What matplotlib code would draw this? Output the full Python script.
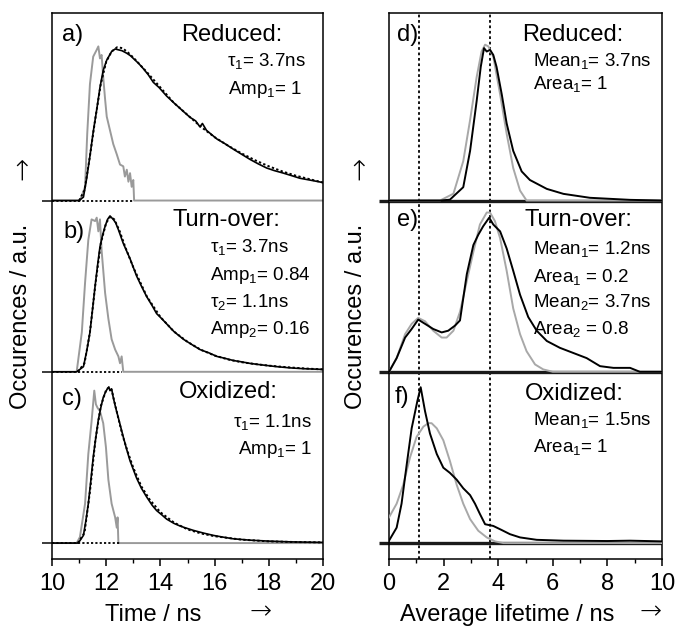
import numpy as np
import matplotlib
matplotlib.use('Agg')
import matplotlib.pyplot as plt
from matplotlib.ticker import MultipleLocator

plt.rcParams['font.family'] = ['Liberation Sans', 'DejaVu Sans']
plt.rcParams['mathtext.fontset'] = 'custom'
plt.rcParams['mathtext.rm'] = 'Liberation Sans'
plt.rcParams['mathtext.it'] = 'Liberation Sans:italic'

# ── decay curves (left) ─────────────────────────────
# a) reduced
irf_a_t = [10.0, 11.03, 11.22, 11.30, 11.40, 11.52, 11.65, 11.71, 11.77, 11.83, 11.89, 11.96, 12.02,
           12.14, 12.26, 12.39, 12.51, 12.63, 12.69, 12.76, 12.82, 12.88, 12.94, 13.00, 13.03, 20.0]
irf_a_h = [0, 0, 0.08, 0.39, 0.68, 0.84, 0.88, 0.90, 0.83, 0.85, 0.72, 0.59, 0.49,
           0.41, 0.33, 0.27, 0.21, 0.20, 0.14, 0.18, 0.11, 0.16, 0.08, 0.12, 0, 0]
dat_a_t = [10.0, 11.0, 11.16, 11.28, 11.40, 11.52, 11.65, 11.77, 11.89, 12.02, 12.20, 12.33, 12.45,
           12.58, 12.76, 12.9, 13.0, 13.2, 13.37, 13.55, 13.74, 13.95, 14.23, 14.5, 14.85, 15.1,
           15.3, 15.46, 15.55, 15.7, 16.08, 16.4, 16.69, 17.0, 17.31, 17.6, 17.92, 18.2, 18.54,
           18.85, 19.15, 19.5, 20.0]
dat_a_h = [0, 0, 0.02, 0.13, 0.26, 0.40, 0.53, 0.66, 0.76, 0.82, 0.87, 0.885, 0.88,
           0.875, 0.86, 0.845, 0.83, 0.80, 0.77, 0.735, 0.69, 0.66, 0.61, 0.57, 0.52, 0.485,
           0.465, 0.43, 0.45, 0.41, 0.36, 0.33, 0.30, 0.27, 0.24, 0.215, 0.19, 0.175, 0.16,
           0.145, 0.13, 0.12, 0.105]
fit_a_t = [11.0, 11.2, 11.4, 11.6, 11.8, 12.0, 12.2, 12.4, 12.6, 12.8, 13.0, 13.5, 14.0, 14.5,
           15.0, 15.5, 16.0, 16.5, 17.0, 17.5, 18.0, 18.5, 19.0, 19.5, 20.0]
fit_a_h = [0, 0.06, 0.26, 0.48, 0.68, 0.81, 0.87, 0.895, 0.89, 0.865, 0.835, 0.75, 0.66, 0.57,
           0.50, 0.43, 0.37, 0.32, 0.275, 0.235, 0.20, 0.17, 0.145, 0.125, 0.105]

# b) turn-over
irf_b_t = [10.0, 10.91, 11.10, 11.22, 11.34, 11.46, 11.59, 11.65, 11.71, 11.77, 11.83, 11.96,
           12.08, 12.20, 12.33, 12.45, 12.51, 12.57, 12.63, 20.0]
irf_b_h = [0, 0, 0.23, 0.52, 0.77, 0.89, 0.88, 0.90, 0.82, 0.89, 0.71, 0.46,
           0.31, 0.19, 0.13, 0.09, 0.05, 0.09, 0, 0]
dat_b_t = [10.0, 10.91, 11.16, 11.28, 11.40, 11.5, 11.59, 11.68, 11.77, 11.87, 11.96, 12.05, 12.14,
           12.26, 12.35, 12.45, 12.63, 12.88, 13.12, 13.3, 13.49, 13.7, 13.86, 14.05, 14.23, 14.5,
           14.85, 15.15, 15.46, 15.8, 16.08, 16.4, 16.69, 17.0, 17.31, 17.6, 17.92, 18.3, 18.78,
           19.3, 20.0]
dat_b_h = [0, 0, 0.03, 0.12, 0.23, 0.37, 0.50, 0.62, 0.73, 0.80, 0.85, 0.89, 0.91,
           0.89, 0.87, 0.83, 0.75, 0.66, 0.56, 0.50, 0.44, 0.385, 0.34, 0.31, 0.28, 0.235,
           0.19, 0.16, 0.13, 0.11, 0.09, 0.078, 0.066, 0.058, 0.049, 0.043, 0.037, 0.03, 0.023,
           0.018, 0.014]
fit_b_t = [10.95, 11.2, 11.4, 11.6, 11.8, 12.0, 12.15, 12.3, 12.5, 12.7, 13.0, 13.5, 14.0, 14.5,
           15.0, 15.5, 16.0, 16.5, 17.0, 17.5, 18.0, 18.5, 19.0, 19.5, 20.0]
fit_b_h = [0, 0.05, 0.23, 0.51, 0.75, 0.87, 0.905, 0.89, 0.82, 0.73, 0.61, 0.44, 0.32, 0.235,
           0.175, 0.128, 0.095, 0.072, 0.056, 0.045, 0.036, 0.029, 0.023, 0.018, 0.014]

# c) oxidized
irf_c_t = [10.0, 10.91, 11.03, 11.22, 11.34, 11.46, 11.56, 11.62, 11.68, 11.77, 11.89, 11.99,
           12.08, 12.20, 12.33, 12.39, 12.42, 12.45, 20.0]
irf_c_h = [0, 0, 0.035, 0.23, 0.52, 0.71, 0.89, 0.81, 0.79, 0.77, 0.70, 0.56,
           0.37, 0.23, 0.15, 0.09, 0.15, 0, 0]
dat_c_t = [10.0, 10.97, 11.16, 11.25, 11.34, 11.43, 11.52, 11.62, 11.71, 11.8, 11.89, 11.97, 12.04,
           12.1, 12.14, 12.2, 12.26, 12.35, 12.45, 12.63, 12.75, 12.88, 13.0, 13.12, 13.3, 13.49,
           13.7, 13.86, 14.05, 14.23, 14.5, 14.72, 14.9, 15.22, 15.6, 15.95, 16.3, 16.69, 17.3,
           17.92, 18.8, 20.0]
dat_c_h = [0, 0, 0.045, 0.13, 0.23, 0.36, 0.50, 0.62, 0.72, 0.79, 0.85, 0.88, 0.90,
           0.91, 0.89, 0.90, 0.85, 0.79, 0.73, 0.62, 0.55, 0.48, 0.43, 0.38, 0.32, 0.27,
           0.22, 0.19, 0.165, 0.14, 0.115, 0.10, 0.09, 0.074, 0.058, 0.045, 0.035, 0.025, 0.017,
           0.012, 0.007, 0.004]
fit_c_t = [10.95, 11.2, 11.4, 11.6, 11.8, 12.0, 12.1, 12.2, 12.4, 12.6, 12.8, 13.0, 13.3, 13.6,
           14.0, 14.5, 15.0, 15.5, 16.0, 17.0, 18.0, 19.0, 20.0]
fit_c_h = [0, 0.06, 0.30, 0.60, 0.80, 0.895, 0.91, 0.895, 0.76, 0.63, 0.53, 0.44, 0.33, 0.255,
           0.18, 0.12, 0.08, 0.056, 0.04, 0.02, 0.01, 0.006, 0.004]

# dotted zero line of the fit ends here
fit_zero_end = [13.0, 12.6, 12.5]

# ── lifetime distributions (right) ──────────────────
dis_d_x = [0, 1.87, 2.23, 2.72, 2.97, 3.21, 3.36, 3.48, 3.58, 3.70, 3.82, 3.94, 4.13, 4.31,
           4.55, 4.86, 5.16, 5.78, 6.39, 7.36, 8.83, 10.0]
dis_d_h = [0, 0, 0.005, 0.078, 0.29, 0.58, 0.78, 0.89, 0.87, 0.88, 0.85, 0.78, 0.62, 0.45,
           0.29, 0.17, 0.12, 0.068, 0.039, 0.016, 0.004, 0]
gau_d_x = [0, 1.87, 2.36, 2.72, 2.97, 3.21, 3.39, 3.52, 3.64, 3.82, 4.07, 4.31, 4.55, 4.80,
           5.04, 10.0]
gau_d_h = [0, 0, 0.04, 0.23, 0.47, 0.72, 0.87, 0.91, 0.90, 0.84, 0.62, 0.39, 0.19, 0.058,
           0, 0]

dis_e_x = [0, 0.28, 0.59, 0.83, 1.07, 1.32, 1.62, 1.93, 2.17, 2.42, 2.60, 2.85, 3.09, 3.27,
           3.45, 3.67, 3.82, 4.07, 4.31, 4.55, 4.80, 5.10, 5.41, 5.78, 6.26, 6.75, 7.24, 7.73,
           8.22, 8.83, 9.19, 10.0]
dis_e_h = [0, 0.08, 0.20, 0.25, 0.305, 0.28, 0.25, 0.23, 0.24, 0.27, 0.30, 0.57, 0.74, 0.80,
           0.85, 0.90, 0.86, 0.82, 0.72, 0.59, 0.45, 0.32, 0.24, 0.18, 0.14, 0.11, 0.08, 0.033,
           0.023, 0.023, 0, 0]
gau_e_x = [0, 0.28, 0.59, 0.83, 1.07, 1.32, 1.62, 1.93, 2.11, 2.36, 2.60, 2.85, 3.09, 3.33,
           3.58, 3.70, 3.88, 4.07, 4.31, 4.55, 4.80, 5.04, 5.35, 5.65, 6.0, 10.0]
gau_e_h = [0, 0.08, 0.22, 0.28, 0.315, 0.295, 0.24, 0.20, 0.20, 0.24, 0.35, 0.53, 0.70, 0.86,
           0.93, 0.93, 0.88, 0.78, 0.59, 0.37, 0.22, 0.12, 0.043, 0.014, 0, 0]

dis_f_x = [0, 0.28, 0.46, 0.65, 0.83, 1.04, 1.16, 1.32, 1.50, 1.75, 1.99, 2.23, 2.48, 2.72,
           2.97, 3.15, 3.33, 3.52, 3.82, 4.13, 4.43, 4.80, 5.41, 6.39, 8.0, 8.83, 10.0]
dis_f_h = [0.014, 0.09, 0.23, 0.46, 0.67, 0.83, 0.91, 0.77, 0.64, 0.52, 0.44, 0.41, 0.37, 0.32,
           0.28, 0.23, 0.17, 0.11, 0.10, 0.076, 0.052, 0.033, 0.019, 0.014, 0.012, 0.014, 0.01]
gau_f_x = [0, 0.28, 0.52, 0.77, 1.01, 1.26, 1.44, 1.56, 1.75, 1.99, 2.23, 2.48, 2.72, 2.97,
           3.27, 3.58, 3.88, 4.19, 10.0]
gau_f_h = [0.15, 0.23, 0.34, 0.50, 0.62, 0.68, 0.70, 0.70, 0.67, 0.60, 0.48, 0.34, 0.23, 0.14,
           0.072, 0.033, 0.01, 0, 0]

mean_lines = [1.1, 3.7]

W, H = 675, 628
fig = plt.figure(figsize=(W / 100, H / 100), dpi=100)

def axes_px(x0, x1, y0, y1):
    return fig.add_axes([x0 / W, 1 - y1 / H, (x1 - x0) / W, (y1 - y0) / H])

def ftext(x, y, s, size, ha='left', va='baseline', **kw):
    fig.text(x / W, 1 - y / H, s, fontsize=size, ha=ha, va=va, **kw)

axL = axes_px(52, 323, 13, 559)
axR = axes_px(389, 662, 13, 559)

GRAY = '#9a9a9a'
LGRAY = '#a8a8a8'

# left column: offsets 2 (a), 1 (b), 0 (c)
left_sets = [(2, irf_a_t, irf_a_h, dat_a_t, dat_a_h, fit_a_t, fit_a_h, fit_zero_end[0]),
             (1, irf_b_t, irf_b_h, dat_b_t, dat_b_h, fit_b_t, fit_b_h, fit_zero_end[1]),
             (0, irf_c_t, irf_c_h, dat_c_t, dat_c_h, fit_c_t, fit_c_h, fit_zero_end[2])]
for off, it, ih, dt, dh, ft, fh, zend in left_sets:
    axL.plot(it, np.array(ih) + off, color=GRAY, lw=1.4, zorder=2)
    axL.plot([10, zend], [off, off], color='black', lw=1.3, ls=(0, (1.2, 1.2)), zorder=3)
    axL.plot(dt, np.array(dh) + off, color='black', lw=1.2, zorder=3)
    axL.plot(ft, np.array(fh) + off, color='black', lw=1.4, ls=(0, (1.2, 1.2)), zorder=4)

axL.set_xlim(10, 20)
axL.xaxis.set_major_locator(MultipleLocator(2))
axL.xaxis.set_minor_locator(MultipleLocator(1))

# right column
for m in mean_lines:
    axR.axvline(m, color='black', lw=1.3, ls=(0, (1.5, 1.5)), zorder=1)
right_sets = [(2, dis_d_x, dis_d_h, gau_d_x, gau_d_h),
              (1, dis_e_x, dis_e_h, gau_e_x, gau_e_h),
              (0, dis_f_x, dis_f_h, gau_f_x, gau_f_h)]
for off, dx, dh, gx, gh in right_sets:
    axR.axhline(off, color='#1a1a1a', lw=2.4, zorder=2)
    axR.plot(gx, np.array(gh) + off, color=LGRAY, lw=1.4, zorder=3)
    axR.plot(dx, np.array(dh) + off, color='black', lw=1.4, zorder=4)

axR.set_xlim(0, 10)
axR.xaxis.set_major_locator(MultipleLocator(2))
axR.xaxis.set_minor_locator(MultipleLocator(1))

for ax, yw in [(axL, 1.2), (axR, 2.4)]:
    ax.set_ylim(-0.093, 3.095)
    ax.set_yticks([0, 1, 2])
    ax.set_yticklabels([])
    ax.tick_params(axis='y', direction='out', length=7.2, width=yw, color='#1a1a1a')
    ax.tick_params(axis='x', which='major', direction='out', length=5, width=1.1,
                   labelsize=17, pad=5)
    ax.tick_params(axis='x', which='minor', direction='out', length=3, width=1.0)
    for sp in ax.spines.values():
        sp.set_linewidth(1.1)

# axis labels (arrows drawn apart in DejaVu Sans)
ARROW = dict(family='DejaVu Sans', fontweight='light')
ftext(21, 316, 'Occurences / a.u.', 17, ha='center', va='center', rotation=90)
ftext(356, 316, 'Occurences / a.u.', 17, ha='center', va='center', rotation=90)
ftext(22, 168, '\u2192', 20, ha='center', va='center', rotation=90, **ARROW)
ftext(359, 168, '\u2192', 20, ha='center', va='center', rotation=90, **ARROW)
ftext(153, 615, 'Time / ns', 17, ha='center', va='center')
ftext(507, 615, 'Average lifetime / ns', 17, ha='center', va='center')
ftext(261, 612, '\u2192', 19, ha='center', va='center', **ARROW)
ftext(651, 612, '\u2192', 19, ha='center', va='center', **ARROW)

BIG, SMALL = 17, 13.5
# panel texts (pixel positions, baseline)
ftext(62, 41, 'a)', BIG)
ftext(232, 41, 'Reduced:', BIG, ha='center')
ftext(227, 66, '\u03c4$_1$= 3.7ns', SMALL)
ftext(228, 94, 'Amp$_1$= 1', SMALL)

ftext(63, 238, 'b)', BIG)
ftext(226, 226, 'Turn-over:', BIG, ha='center')
ftext(210, 252, '\u03c4$_1$= 3.7ns', SMALL)
ftext(210, 280, 'Amp$_1$= 0.84', SMALL)
ftext(210, 307, '\u03c4$_2$= 1.1ns', SMALL)
ftext(210, 334, 'Amp$_2$= 0.16', SMALL)

ftext(62, 405, 'c)', BIG)
ftext(228, 398, 'Oxidized:', BIG, ha='center')
ftext(233, 427, '\u03c4$_1$= 1.1ns', SMALL)
ftext(238, 454, 'Amp$_1$= 1', SMALL)

ftext(397, 41, 'd)', BIG)
ftext(573, 41, 'Reduced:', BIG, ha='center')
ftext(533, 66, 'Mean$_1$= 3.7ns', SMALL)
ftext(533, 89, 'Area$_1$= 1', SMALL)

ftext(397, 226, 'e)', BIG)
ftext(578, 226, 'Turn-over:', BIG, ha='center')
ftext(533, 254, 'Mean$_1$= 1.2ns', SMALL)
ftext(533, 282, 'Area$_1$ = 0.2', SMALL)
ftext(533, 307, 'Mean$_2$= 3.7ns', SMALL)
ftext(533, 334, 'Area$_2$ = 0.8', SMALL)

ftext(395, 403, 'f)', BIG)
ftext(574, 400, 'Oxidized:', BIG, ha='center')
ftext(533, 425, 'Mean$_1$= 1.5ns', SMALL)
ftext(533, 452, 'Area$_1$= 1', SMALL)

fig.savefig('out.png', dpi=100, facecolor='white')
